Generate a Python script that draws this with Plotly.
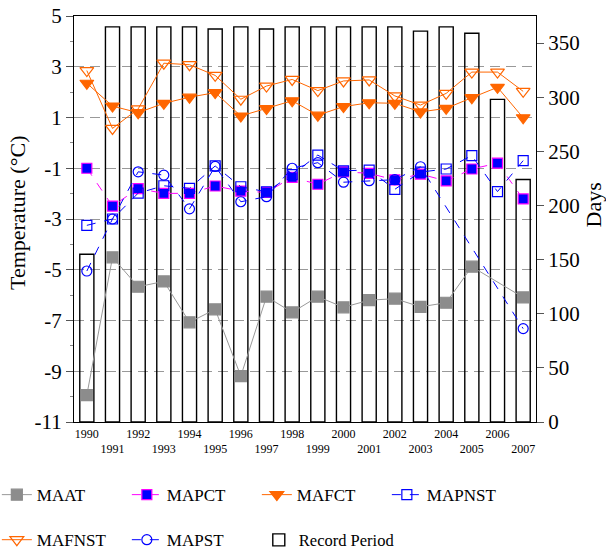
import plotly.graph_objects as go

years = [str(y) for y in range(1990, 2008)]
tick_labels = [y if int(y) % 2 == 0 else "<br>" + y for y in years]

maat = [-9.94, -4.51, -5.67, -5.46, -7.07, -6.56, -9.19, -6.06, -6.68, -6.06,
        -6.48, -6.2, -6.14, -6.46, -6.3, -4.88, None, -6.09]
mapct = [-1.0, -2.49, -1.8, -1.99, -1.99, -1.7, -1.9, -1.95, -1.36, -1.63,
         -1.14, -1.2, -1.46, -1.23, -1.5, -1.03, -0.8, -2.21]
mafct = [2.35, 1.45, 1.19, 1.56, 1.8, 1.98, 1.06, 1.35, 1.66, 1.09,
         1.43, 1.58, 1.56, 1.22, 1.36, 1.78, 2.19, 0.99]
mapnst = [-3.25, -3.0, -1.98, -1.69, -1.79, -0.91, -1.73, -1.93, -1.25, -0.48,
          -1.1, -1.07, -1.83, -1.15, -1.03, -0.5, -1.92, -0.7]
mafnst = [2.85, 0.57, 1.34, 3.14, 3.08, 2.66, 1.72, 2.24, 2.5, 2.06,
          2.44, 2.48, 1.85, 1.49, 1.95, 2.79, 2.79, 2.03]
mapst = [-5.05, -3.0, -1.14, -1.27, -2.6, -0.93, -2.32, -2.12, -1.0, -0.78,
         -1.55, -1.49, -1.45, -0.94, None, None, None, -7.32]
record_days = [155, 365, 365, 365, 365, 363, 365, 363, 365, 365,
               365, 365, 365, 361, 365, 359, 298, 224]

FONT = "Liberation Serif"
ORANGE = "#FF6600"
BLUE = "#0000FF"
GRAY = "#8c8c8c"

fig = go.Figure()

def line_trace(name, y, dash, symbol, msize, mcolor, mline, lcolor, legend):
    return go.Scatter(
        x=years, y=y, name=name, mode="lines+markers", yaxis="y2",
        connectgaps=True, legend=legend,
        line=dict(color=lcolor, width=1, dash=dash),
        marker=dict(symbol=symbol, size=msize, color=mcolor,
                    line=dict(color=mline, width=1.2)),
    )

fig.add_trace(line_trace("MAAT", maat, "solid", "square", 11, GRAY, GRAY, "#999999", "legend"))
fig.add_trace(line_trace("MAPCT", mapct, "dash", "square", 10, BLUE, "#FF00FF", "#FF00FF", "legend"))
fig.add_trace(line_trace("MAFCT", mafct, "solid", "triangle-down", 12, ORANGE, ORANGE, ORANGE, "legend"))
fig.add_trace(line_trace("MAPNST", mapnst, "dash", "square-open", 10, BLUE, BLUE, BLUE, "legend"))
fig.add_trace(line_trace("MAFNST", mafnst, "solid", "triangle-down-open", 12, ORANGE, ORANGE, ORANGE, "legend2"))
fig.add_trace(line_trace("MAPST", mapst, "dash", "circle-open", 10, BLUE, BLUE, BLUE, "legend2"))

fig.add_trace(go.Bar(
    x=years, y=record_days, name="Record Period", yaxis="y", width=0.55,
    marker=dict(color="rgba(0,0,0,0)", line=dict(color="black", width=1.4)),
    legend="legend3",
))

leg_common = dict(orientation="h", xanchor="left", yanchor="middle",
                  entrywidth=85, entrywidthmode="pixels",
                  font=dict(family=FONT, size=17), bgcolor="rgba(0,0,0,0)")

fig.update_layout(
    width=606, height=551,
    margin=dict(l=74, r=70, t=16, b=129, autoexpand=False),
    paper_bgcolor="white", plot_bgcolor="white",
    font=dict(family=FONT, color="black"),
    showlegend=True,
    legend=dict(x=-0.167, y=-0.18, **leg_common),
    legend2=dict(x=-0.167, y=-0.291, **leg_common),
    legend3=dict(orientation="h", x=0.40, y=-0.291, xanchor="left", yanchor="middle",
                 font=dict(family=FONT, size=16.5), bgcolor="rgba(0,0,0,0)"),
    xaxis=dict(
        type="category", range=[-0.5, 17.5], automargin=False,
        tickmode="array", tickvals=years, ticktext=tick_labels, tickangle=0,
        tickfont=dict(family=FONT, size=12), ticks="",
        showline=True, linecolor="black", linewidth=1.2, mirror=True,
        showgrid=False, zeroline=False,
    ),
    yaxis=dict(
        side="right", range=[0, 375], tickvals=[0, 50, 100, 150, 200, 250, 300, 350],
        ticks="outside", ticklen=7, tickcolor="#555555", automargin=False,
        tickfont=dict(family=FONT, size=21),
        showline=True, linecolor="black", linewidth=1.2,
        showgrid=False, zeroline=False,
    ),
    yaxis2=dict(
        side="left", overlaying="y", range=[-11, 5], automargin=False,
        tickvals=[-11, -9, -7, -5, -3, -1, 1, 3, 5],
        ticktext=["-11", "-9", "-7", "-5", "-3", "-1", "1", "3", "5"],
        ticks="outside", ticklen=7, tickcolor="#555555",
        tickfont=dict(family=FONT, size=21),
        minor=dict(tickvals=[-10, -8, -6, -4, -2, 0, 2, 4], ticks="outside",
                   ticklen=3, tickcolor="#888888", showgrid=False),
        showline=True, linecolor="black", linewidth=1.2,
        showgrid=True, gridcolor="#999999", gridwidth=1, griddash="10px,6px",
        zeroline=False,
    ),
    annotations=[
        dict(text="Temperature (°C)", textangle=-90, xref="paper", yref="paper",
             x=-0.121, y=0.515, xanchor="center", yanchor="middle", showarrow=False,
             font=dict(family=FONT, size=22)),
        dict(text="Days", textangle=-90, xref="paper", yref="paper",
             x=1.124, y=0.534, xanchor="center", yanchor="middle", showarrow=False,
             font=dict(family=FONT, size=22)),
    ],
)

fig.write_html("out.html", config={"displayModeBar": False},
               post_script="document.body.style.margin='0';")
